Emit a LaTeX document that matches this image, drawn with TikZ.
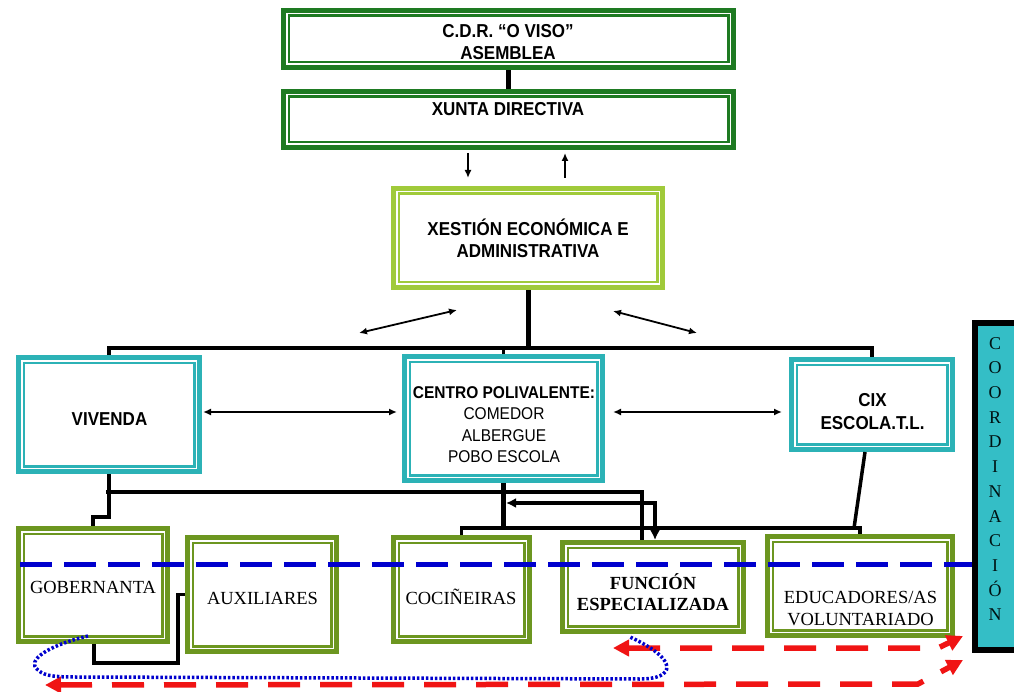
\documentclass[tikz,border=0pt]{standalone}
\usepackage{fontspec}
\usepackage{graphicx}
\setmainfont{Liberation Serif}
\newfontfamily\arialf{Liberation Sans}
\usetikzlibrary{arrows.meta,calc}
\newcommand{\vst}[1]{\scalebox{1}[1.1]{#1}}
\definecolor{dgreen}{RGB}{30,122,34}
\definecolor{lgreen}{RGB}{160,202,58}
\definecolor{tealb}{RGB}{44,178,182}
\definecolor{oliveg}{RGB}{108,150,32}
\definecolor{coordfill}{RGB}{52,190,198}
\definecolor{bluel}{RGB}{0,0,205}
\definecolor{redl}{RGB}{240,20,20}
\begin{document}
\begin{tikzpicture}[x=1pt,y=-1pt,
  boxA/.style={draw=#1, line width=5pt, outer sep=2.5pt, inner sep=0pt, fill=white},
  sansb/.style={font=\arialf\bfseries\fontsize{17pt}{22pt}\selectfont, align=center, inner sep=0pt},
  sansc/.style={font=\arialf\fontsize{15.5pt}{21.5pt}\selectfont, align=center, inner sep=0pt},
  serif/.style={font=\fontsize{18.5pt}{22pt}\selectfont, align=center, inner sep=0pt},
  serifb/.style={font=\bfseries\fontsize{18.5pt}{21pt}\selectfont, align=center, inner sep=0pt},
  conn/.style={draw=black, line width=3.5pt},
  thickconn/.style={draw=black, line width=5pt},
  arrs/.style={draw=black, line width=2pt, -{Latex[length=8pt,width=7pt]}},
  darrs/.style={draw=black, line width=1.8pt, {Latex[length=8pt,width=7pt]}-{Latex[length=8pt,width=7pt]}},
  bluedash/.style={draw=bluel, line width=5pt, dash pattern=on 32pt off 12pt},
  reddash/.style={draw=redl, line width=5.5pt, dash pattern=on 32pt off 20pt,
     {Triangle[length=16pt,width=16pt]}-{Triangle[length=16pt,width=16pt]}},
  bluedot/.style={draw=bluel, line width=3.5pt, dash pattern=on 2.5pt off 2pt}
]
\useasboundingbox (0,0) rectangle (1014,692);
\fill[white] (0,0) rectangle (1014,692);

% boxes
\node[boxA=dgreen, minimum width=450pt, minimum height=57pt] (asm) at (508.5,39) {};
\node[boxA=dgreen, minimum width=450pt, minimum height=56pt] (xunta) at (508.5,119.5) {};
\node[boxA=lgreen, minimum width=269pt, minimum height=99pt] (xest) at (528,238) {};
\node[boxA=tealb, minimum width=181pt, minimum height=114pt] (viv) at (109,414.5) {};
\node[boxA=tealb, minimum width=198pt, minimum height=124pt] (centro) at (503.5,418.5) {};
\node[boxA=tealb, minimum width=161pt, minimum height=90pt] (cix) at (872,404.5) {};
\node[boxA=oliveg, minimum width=149pt, minimum height=113pt] (gob) at (93,585) {};
\node[boxA=oliveg, minimum width=149pt, minimum height=114pt] (aux) at (262,594.5) {};
\node[boxA=oliveg, minimum width=136pt, minimum height=104pt] (coc) at (461.5,589.5) {};
\node[boxA=oliveg, minimum width=181pt, minimum height=89pt] (func) at (653,587) {};
\node[boxA=oliveg, minimum width=185pt, minimum height=99pt] (edu) at (860,586) {};
\node[draw=black, line width=6pt, outer sep=3pt, fill=coordfill, minimum width=42pt, minimum height=327pt, inner sep=0pt] (coord) at (996,486.5) {};

\foreach \n/\c in {asm/dgreen, xunta/dgreen, xest/lgreen, viv/tealb, centro/tealb, cix/tealb,
                   gob/oliveg, aux/oliveg, coc/oliveg, func/oliveg, edu/oliveg}
  \draw[\c, line width=2.5pt] ([shift={(7.75pt,-7.75pt)}]\n.north west) rectangle ([shift={(-7.75pt,7.75pt)}]\n.south east);

% texts
\node[sansb] (asmT) at (508,42.5) {\vst{C.D.R. “O VISO”}\\\vst{ASEMBLEA}};
\node[sansb] (xuntaT) at (508,109) {\vst{XUNTA DIRECTIVA}};
\node[sansb] (xestT) at (528,238) {\vst{XESTIÓN ECONÓMICA E}\\\vst{ADMINISTRATIVA}};
\node[sansb] (vivT) at (109.5,419.5) {\vst{VIVENDA}};
\node[sansc] (centroT) at (504,424.5) {\vst{\textbf{CENTRO POLIVALENTE:}}\\\vst{COMEDOR}\\\vst{ALBERGUE}\\\vst{POBO ESCOLA}};
\node[sansb, font=\arialf\bfseries\fontsize{17pt}{23pt}\selectfont] (cixT) at (872.5,412) {\vst{CIX}\\\vst{ESCOLA.T.L.}};
\node[serif] (gobT) at (93,587) {GOBERNANTA};
\node[serif] (auxT) at (262.5,598) {AUXILIARES};
\node[serif] (cocT) at (461,596.4) {COCIÑEIRAS};
\node[serifb] (funcT) at (653,591.8) {FUNCIÓN\\ESPECIALIZADA};
\node[serif] (eduT) at (860.5,609) {EDUCADORES/AS\\VOLUNTARIADO};
\node[font=\fontsize{18pt}{24.7pt}\selectfont, align=center, inner sep=0pt, text=black!85!teal] (coordT) at (995,479)
  {C\\O\\O\\R\\D\\I\\N\\A\\C\\I\\Ó\\N};

% helper coordinates
\coordinate (busA) at (0,348);
\coordinate (yA) at (0,412);
\coordinate (busB) at (106,492);
\coordinate (yC) at (0,503);
\coordinate (busC) at (504,528);
\coordinate (cGA) at (178,663);
\coordinate (yD) at (0,564);
\coordinate (d1) at (359,333);
\coordinate (d2) at (457,310);
\coordinate (d3) at (613,311);
\coordinate (d4) at (697,333);

% connectors
\draw[thickconn] (asm.south) -- (xunta.north);
\draw[arrs] ([xshift=-40.5pt,yshift=-3pt]xunta.south) -- ++(0,25);
\draw[arrs] ([xshift=56.5pt,yshift=-28pt]xunta.south) -- ++(0,-25);
\draw[thickconn] (xest.south) -- (xest.south |- busA);
\draw[conn] (viv.north) |- (cix.north |- busA) -- (cix.north);
\draw[conn] (centro.north) -- (centro.north |- busA);
\draw[darrs] (d1) -- (d2);
\draw[darrs] (d3) -- (d4);
\draw[darrs, shorten <=1pt, shorten >=5pt] (viv.east |- yA) -- (centro.west |- yA);
\draw[darrs, shorten <=8pt, shorten >=7pt] (centro.east |- yA) -- (cix.west |- yA);

\draw[conn] (viv.south) -- ++(0,43) -| (gob.north);
\draw[conn] (busB) -| ([xshift=-11pt]func.north);
\draw[conn, {Latex[length=10pt,width=10pt]}-{Latex[length=10pt,width=10pt]}] ($(centro.south |- yC)+(2.5,0)$) -| ([xshift=2pt]func.north);
\draw[thickconn] (centro.south) -- (centro.south |- busC);
\draw[conn] (coc.north) |- (busC) -| (edu.north);
\draw[conn] ([xshift=-7pt]cix.south) -- ([xshift=-6pt]edu.north |- busC);
\draw[conn] ([xshift=1pt]gob.south) |- (cGA) |- (aux.west);

% coordination lines
\draw[bluedash] (20,564) -- (coord.west |- yD);
\draw[reddash] (613,648) -- (938,648) -- (963,636);
\draw[reddash] (45,685) -- (918,684) -- (963,660);
\draw[bluedot] (88,636) .. controls (50,645) and (25,660) .. (38,670)
  .. controls (45,677) and (60,677) .. (80,677) -- (640,679)
  .. controls (675,679) and (680,660) .. (630,637);
\end{tikzpicture}
\end{document}
